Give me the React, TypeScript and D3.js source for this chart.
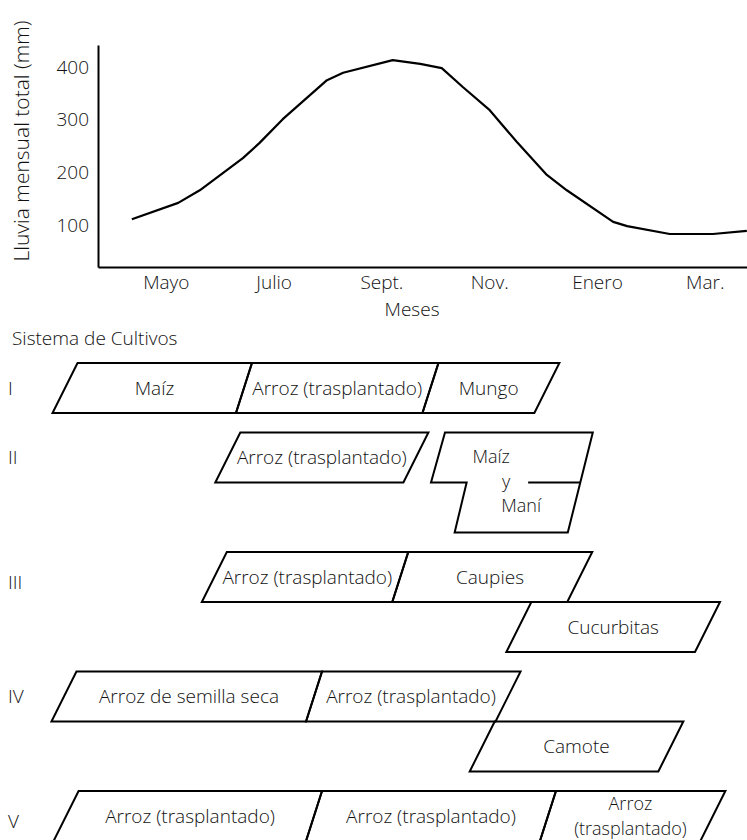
import React, { useEffect, useRef } from 'react';
import * as d3 from 'd3';

// eje de meses: 0 = Mayo, 1 = Junio, ...
const monthTicks = [0, 2, 4, 6, 8, 10];
const monthLabels = ['Mayo', 'Julio', 'Sept.', 'Nov.', 'Enero', 'Mar.'];
const rainTicks = [100, 200, 300, 400];

// curva de lluvia: posición en meses y lluvia mensual total (mm)
const rainMonth = [-0.63, 0.23, 0.63, 1.43, 1.74, 2.17, 2.99, 3.29, 4.21, 4.72, 5.12, 5.51, 6.01, 6.51, 7.07, 7.44, 8.3, 8.56, 9.35, 10.15, 10.78];
const rainMm = [111, 142, 166, 227, 256, 301, 375, 389, 413, 406, 398, 362, 318, 258, 195, 166, 106, 98, 83, 83, 89];

// sistemas de cultivo
const systems = ['I', 'II', 'III', 'IV', 'V'];
const systemLanes = [1, 2, 2, 2, 1];

const cropName = [
    'Maíz', 'Arroz (trasplantado)', 'Mungo',
    'Arroz (trasplantado)',
    'Arroz (trasplantado)', 'Caupies', 'Cucurbitas',
    'Arroz de semilla seca', 'Arroz (trasplantado)', 'Camote',
    'Arroz (trasplantado)', 'Arroz (trasplantado)', 'Arroz\n(trasplantado)',
];
const cropSystem = [0, 0, 0, 1, 2, 2, 2, 3, 3, 3, 4, 4, 4];
const cropLane = [0, 0, 0, 0, 0, 0, 1, 0, 0, 1, 0, 0, 0];
const cropStart = [-1.87, 1.45, 4.91, 1.15, 0.9, 4.35, 6.55, -1.89, 2.75, 5.87, -1.85, 2.75, 7.09];
const cropEnd = [1.45, 4.91, 7.07, 4.64, 4.35, 7.68, 10.05, 2.75, 6.35, 9.37, 2.75, 7.09, 10.15];

// cultivo intercalado del sistema II (Maíz arriba, Maní abajo)
const mixLines = ['Maíz', 'y', 'Maní'];
const mixStart = [5.05, 5.47];
const mixEnd = 7.69;

const FONT = "'Open Sans', sans-serif";
const INK = '#111';

const App: React.FC = () => {
    const ref = useRef<SVGSVGElement>(null);
    const width = 747;
    const height = 840;

    useEffect(() => {
        const svg = d3.select(ref.current);
        svg.selectAll('*').remove();

        const x = d3.scaleLinear().domain([-1.258, 10.783]).range([98, 747]);
        const y = d3.scaleLinear().domain([20.3, 441.8]).range([267, 45]);

        // ejes
        const yAxis = svg.append('g')
            .attr('transform', `translate(${x.range()[0]},0)`)
            .call(d3.axisLeft(y).tickValues(rainTicks).tickSize(0).tickSizeOuter(0).tickPadding(9));
        const xAxis = svg.append('g')
            .attr('transform', `translate(0,${y.range()[0]})`)
            .call(d3.axisBottom(x).tickValues(monthTicks).tickSize(0).tickSizeOuter(0).tickPadding(9)
                .tickFormat((d, i) => monthLabels[i]));

        [yAxis, xAxis].forEach(ax => {
            ax.select('.domain').attr('stroke', '#000').attr('stroke-width', 2);
            ax.selectAll('text')
                .attr('font-family', FONT).attr('font-weight', 300)
                .attr('font-size', 19).attr('fill', INK);
        });

        svg.append('text')
            .attr('transform', 'translate(29,141) rotate(-90)')
            .attr('text-anchor', 'middle')
            .attr('font-family', FONT).attr('font-weight', 300).attr('font-size', 21).attr('fill', INK)
            .text('Lluvia mensual total (mm)');

        svg.append('text')
            .attr('x', 412).attr('y', 316)
            .attr('text-anchor', 'middle')
            .attr('font-family', FONT).attr('font-weight', 300).attr('font-size', 19).attr('fill', INK)
            .text('Meses');

        // curva de lluvia
        const line = d3.line<number>()
            .x((d, i) => x(rainMonth[i]))
            .y(d => y(d));

        svg.append('path')
            .attr('d', line(rainMm))
            .attr('fill', 'none')
            .attr('stroke', '#000')
            .attr('stroke-width', 2.2)
            .attr('stroke-linejoin', 'round');

        // sistemas de cultivo
        svg.append('text')
            .attr('x', 12).attr('y', 345)
            .attr('font-family', FONT).attr('font-weight', 300).attr('font-size', 19).attr('fill', INK)
            .text('Sistema de Cultivos');

        const laneH = 50;
        const gap = 19.5;
        const tops: number[] = [];
        let top = 363;
        systemLanes.forEach(n => {
            tops.push(top);
            top += n * laneH + gap;
        });

        const outerSkew = 25;
        const innerSkew = 16;

        const g = svg.append('g');

        systems.forEach((s, i) => {
            g.append('text')
                .attr('x', 8).attr('y', tops[i] + laneH / 2 + (i === 2 || i === 4 ? 5 : 0))
                .attr('dy', '0.35em')
                .attr('font-family', FONT).attr('font-weight', 300).attr('font-size', 19).attr('fill', INK)
                .text(s);
        });

        cropName.forEach((name, i) => {
            const yt = tops[cropSystem[i]] + cropLane[i] * laneH;
            const yb = yt + laneH;
            const sameLane = (j: number) => cropSystem[j] === cropSystem[i] && cropLane[j] === cropLane[i];
            const leftShared = cropEnd.some((e, j) => j !== i && sameLane(j) && e === cropStart[i]);
            const rightShared = cropStart.some((st, j) => j !== i && sameLane(j) && st === cropEnd[i]);
            const sl = leftShared ? innerSkew : outerSkew;
            const sr = rightShared ? innerSkew : outerSkew;
            const x0 = x(cropStart[i]);
            const x1 = x(cropEnd[i]);
            const pts: [number, number][] = [
                [x0 + sl / 2, yt], [x1 + sr / 2, yt], [x1 - sr / 2, yb], [x0 - sl / 2, yb],
            ];
            g.append('path')
                .attr('d', d3.line()(pts) + 'Z')
                .attr('fill', 'none')
                .attr('stroke', '#000')
                .attr('stroke-width', 2)
                .attr('stroke-linejoin', 'miter');

            const lines = name.split('\n');
            const cx = (x0 + x1) / 2;
            const cy = (yt + yb) / 2;
            const fs = lines.length > 1 ? 18 : 19;
            lines.forEach((t, k) => {
                g.append('text')
                    .attr('x', cx)
                    .attr('y', cy + (k - (lines.length - 1) / 2) * 24.5)
                    .attr('dy', '0.35em')
                    .attr('text-anchor', 'middle')
                    .attr('font-family', FONT).attr('font-weight', 300).attr('font-size', fs).attr('fill', INK)
                    .text(t);
            });
        });

        // bloque Maíz y Maní
        const yt = tops[1];
        const ym = yt + laneH;
        const yb = ym + laneH;
        const su = 14;
        const sd = 12;
        const xr = x(mixEnd);
        const xu = x(mixStart[0]);
        const xd = x(mixStart[1]);
        const mixPts: [number, number][] = [
            [xu + su / 2, yt],
            [xr + 12.5, yt],
            [xr - 12.5, yb],
            [xd - sd / 2, yb],
            [xd + sd / 2, ym],
            [xu - su / 2, ym],
        ];
        g.append('path')
            .attr('d', d3.line()(mixPts) + 'Z')
            .attr('fill', 'none')
            .attr('stroke', '#000')
            .attr('stroke-width', 2);

        const mcx = x((mixStart[0] + mixEnd) / 2) - 3;
        g.append('line')
            .attr('x1', mcx + 22).attr('x2', xr)
            .attr('y1', ym).attr('y2', ym)
            .attr('stroke', '#000').attr('stroke-width', 2);

        mixLines.forEach((t, k) => {
            g.append('text')
                .attr('x', mcx + (k - 1) * 15)
                .attr('y', ym + 5 + (k - 1) * 24.5)
                .attr('text-anchor', 'middle')
                .attr('font-family', FONT).attr('font-weight', 300).attr('font-size', 18).attr('fill', INK)
                .text(t);
        });
    }, []);

    return (
        <svg ref={ref} width={width} height={height}
            style={{ position: 'absolute', left: 0, top: 0, background: '#fff' }} />
    );
};

export default App;
